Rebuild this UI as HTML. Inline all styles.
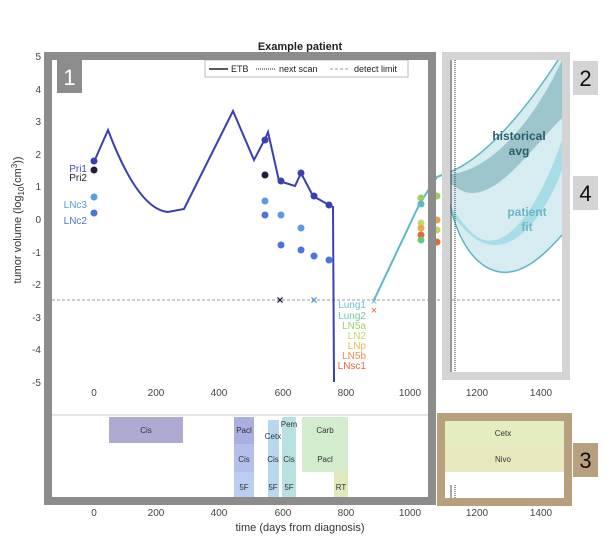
<!DOCTYPE html>
<html><head><style>body{margin:0;background:#fff}svg{display:block;font-family:"Liberation Sans",sans-serif}</style></head><body>
<svg width="608" height="544" viewBox="0 0 608 544">
<g>
<path d="M450,172 C480,160 520,120 562,54 L562,235 C540,260 520,275 500,272 C475,268 458,240 450,205 Z" fill="#d6ecf1"/>
<path d="M450,174 C485,172 530,130 562,60 L562,118 C530,150 500,195 470,193 C460,192 455,185 450,184 Z" fill="#9cc5cc"/>
<path d="M450,205 C470,235 480,243 495,240 C520,235 545,190 562,140 L562,170 C545,215 520,245 495,245 C475,245 460,225 450,212 Z" fill="#a7dde6"/>
<path d="M450,172 C480,160 520,120 562,54" fill="none" stroke="#5fb3c0" stroke-width="1.5"/>
<path d="M450,205 C458,240 475,268 500,272 C520,275 540,260 562,235" fill="none" stroke="#5fb3c0" stroke-width="1.5"/>
<text x="519" y="140" font-size="12" font-weight="bold" fill="#2e5d68" text-anchor="middle">historical</text>
<text x="519" y="155" font-size="12" font-weight="bold" fill="#2e5d68" text-anchor="middle">avg</text>
<text x="527" y="216" font-size="12" font-weight="bold" fill="#6fb5c2" text-anchor="middle">patient</text>
<text x="527" y="231" font-size="12" font-weight="bold" fill="#6fb5c2" text-anchor="middle">fit</text>
<line x1="451" y1="60" x2="451" y2="372" stroke="#555" stroke-width="1.2"/>
<line x1="455" y1="60" x2="455" y2="372" stroke="#333" stroke-width="1" stroke-dasharray="1,1"/>
</g>
<line x1="52" y1="300" x2="570" y2="300" stroke="#999" stroke-dasharray="3,2"/>
<g font-size="10" fill="#444" text-anchor="end">
<text x="41" y="60">5</text><text x="41" y="93">4</text><text x="41" y="125">3</text><text x="41" y="158">2</text><text x="41" y="190">1</text><text x="41" y="223">0</text><text x="41" y="256">-1</text><text x="41" y="288">-2</text><text x="41" y="321">-3</text><text x="41" y="353">-4</text><text x="41" y="386">-5</text>
</g>
<text transform="translate(21,220) rotate(-90)" font-size="11" fill="#333" text-anchor="middle">tumor volume (log<tspan font-size="8" dy="3">10</tspan><tspan dy="-3">(cm</tspan><tspan font-size="8" dy="-4">3</tspan><tspan dy="4">))</tspan></text>
<text x="300" y="50" font-size="11" font-weight="bold" fill="#222" text-anchor="middle">Example patient</text>
<g font-size="10" fill="#444" text-anchor="middle">
<text x="94" y="396">0</text><text x="156" y="396">200</text><text x="219" y="396">400</text><text x="283" y="396">600</text><text x="346" y="396">800</text><text x="410" y="396">1000</text><text x="477" y="396">1200</text><text x="541" y="396">1400</text>
<text x="94" y="516">0</text><text x="156" y="516">200</text><text x="219" y="516">400</text><text x="283" y="516">600</text><text x="346" y="516">800</text><text x="410" y="516">1000</text><text x="477" y="516">1200</text><text x="541" y="516">1400</text>
</g>
<text x="300" y="531" font-size="11" fill="#333" text-anchor="middle">time (days from diagnosis)</text>
<rect x="205" y="60" width="203" height="17" fill="#fff" stroke="#bbb"/>
<line x1="209" y1="69" x2="228" y2="69" stroke="#222" stroke-width="1.5"/>
<text x="231" y="72" font-size="9" fill="#222">ETB</text>
<line x1="256" y1="69" x2="276" y2="69" stroke="#222" stroke-dasharray="1,1"/>
<text x="279" y="72" font-size="9" fill="#222">next scan</text>
<line x1="330" y1="69" x2="350" y2="69" stroke="#999" stroke-dasharray="3,2"/>
<text x="354" y="72" font-size="9" fill="#222">detect limit</text>
<path d="M94,162 L108,130 C125,175 145,210 168,212 L184,209 L233,111 L254,160 L266,137 L268,132 L279,181 L295,186 L301,173 L313,196 L329,205 L333,207 L334,382" fill="none" stroke="#3b3fb0" stroke-width="2"/>
<path d="M374,300 L420,203 L437,177 L450,172" fill="none" stroke="#5fb8c6" stroke-width="2"/>
<g>
<circle cx="94" cy="161" r="3.5" fill="#3b3fb0"/><circle cx="94" cy="170" r="3.5" fill="#2a1a3a"/><circle cx="94" cy="197" r="3.5" fill="#5a9ae8"/><circle cx="94" cy="213" r="3.5" fill="#4a73e0"/>
<circle cx="265" cy="140" r="3.5" fill="#3b3fb0"/><circle cx="265" cy="175" r="3.5" fill="#2a1a3a"/><circle cx="265" cy="201" r="3.5" fill="#5a9ae8"/><circle cx="265" cy="215" r="3.5" fill="#4a73e0"/>
<circle cx="281" cy="181" r="3.5" fill="#3b3fb0"/><circle cx="281" cy="215" r="3.5" fill="#5a9ae8"/><circle cx="281" cy="245" r="3.5" fill="#4a73e0"/>
<circle cx="301" cy="173" r="3.5" fill="#3b3fb0"/><circle cx="301" cy="228" r="3.5" fill="#5a9ae8"/><circle cx="301" cy="250" r="3.5" fill="#4a73e0"/>
<circle cx="314" cy="196" r="3.5" fill="#3b3fb0"/><circle cx="314" cy="256" r="3.5" fill="#4a73e0"/>
<circle cx="329" cy="205" r="3.5" fill="#3b3fb0"/><circle cx="329" cy="260" r="3.5" fill="#4a73e0"/>
<circle cx="421" cy="198" r="3.5" fill="#9ccf5a"/><circle cx="421" cy="204" r="3.5" fill="#5fb8c6"/>
<circle cx="421" cy="223" r="3.5" fill="#c8d870"/><circle cx="421" cy="228" r="3.5" fill="#e8a850"/><circle cx="421" cy="235" r="3.5" fill="#e06a30"/><circle cx="421" cy="240" r="3.5" fill="#6ac880"/>
<circle cx="437" cy="196" r="3.5" fill="#9ccf5a"/><circle cx="437" cy="220" r="3.5" fill="#e8a050"/><circle cx="437" cy="230" r="3.5" fill="#c8d060"/><circle cx="437" cy="242" r="3.5" fill="#e06a30"/>
</g>
<text x="280" y="304" font-size="12" fill="#2a1a3a" text-anchor="middle" font-weight="bold">×</text>
<text x="314" y="304" font-size="12" fill="#5a9ae8" text-anchor="middle" font-weight="bold">×</text>
<text x="374" y="305" font-size="11" fill="#5fb8c6" text-anchor="middle">×</text>
<text x="374" y="314" font-size="11" fill="#e06a30" text-anchor="middle">×</text>
<g font-size="10" text-anchor="end">
<text x="87" y="172" fill="#4a4ab8">Pri1</text><text x="87" y="181" fill="#2a1a3a">Pri2</text><text x="87" y="208" fill="#5a9ae8">LNc3</text><text x="87" y="224" fill="#4a73e0">LNc2</text>
<text x="366" y="308" fill="#6cc4d4">Lung1</text><text x="366" y="319" fill="#6ccaa8">Lung2</text><text x="366" y="329" fill="#9fd06a">LN5a</text><text x="366" y="339" fill="#c8d860">LN2</text><text x="366" y="349" fill="#e8b850">LNp</text><text x="366" y="359" fill="#ea9050">LN5b</text><text x="366" y="369" fill="#e06a40">LNsc1</text>
</g>
<line x1="52" y1="415" x2="428" y2="415" stroke="#ccc"/>
<rect x="109" y="417" width="74" height="26" fill="#aeaad2"/>
<rect x="234" y="417" width="20" height="27" fill="#aaaee0"/><rect x="234" y="444" width="20" height="28" fill="#b4c0ea"/><rect x="234" y="472" width="20" height="26" fill="#bccdf2"/>
<rect x="268" y="420" width="11" height="78" fill="#b8d8f0"/>
<rect x="282" y="417" width="14" height="81" fill="#b8e2e2"/>
<rect x="302" y="417" width="46" height="55" fill="#d3ecce"/><rect x="334" y="472" width="14" height="26" fill="#dfeabc"/>
<g font-size="8" fill="#333" text-anchor="middle">
<text x="146" y="433">Cis</text><text x="244" y="433">Pacl</text><text x="244" y="462">Cis</text><text x="244" y="490">5F</text>
<text x="273" y="439">Cetx</text><text x="273" y="462">Cis</text><text x="273" y="490">5F</text>
<text x="289" y="427">Pem</text><text x="289" y="462">Cis</text><text x="289" y="490">5F</text>
<text x="325" y="433">Carb</text><text x="325" y="462">Pacl</text><text x="341" y="490">RT</text>
</g>
<rect x="445" y="421" width="119" height="24" fill="#e5ecc0"/>
<rect x="445" y="445" width="119" height="27" fill="#e9e9c0"/>
<text x="503" y="436" font-size="8" fill="#333" text-anchor="middle">Cetx</text>
<text x="503" y="462" font-size="8" fill="#333" text-anchor="middle">Nivo</text>
<line x1="451" y1="485" x2="451" y2="498" stroke="#555"/>
<line x1="455" y1="485" x2="455" y2="498" stroke="#333" stroke-dasharray="1,1"/>
<rect x="48" y="56" width="384" height="445" fill="none" stroke="#8c8c8c" stroke-width="8"/>
<rect x="446" y="56" width="120" height="320" fill="none" stroke="#d4d4d4" stroke-width="8"/>
<rect x="441" y="417" width="127" height="85" fill="none" stroke="#b89f7e" stroke-width="8"/>
<rect x="57" y="60" width="25" height="33" fill="#8c8c8c"/>
<text x="69.5" y="85" font-size="22" fill="#fff" text-anchor="middle">1</text>
<rect x="573" y="61" width="25" height="34" fill="#d4d4d4"/>
<text x="585.5" y="86" font-size="22" fill="#111" text-anchor="middle">2</text>
<rect x="573" y="176" width="25" height="34" fill="#d4d4d4"/>
<text x="585.5" y="201" font-size="22" fill="#111" text-anchor="middle">4</text>
<rect x="573" y="443" width="25" height="34" fill="#b89f7e"/>
<text x="585.5" y="468" font-size="22" fill="#111" text-anchor="middle">3</text>
</svg>
</body></html>
